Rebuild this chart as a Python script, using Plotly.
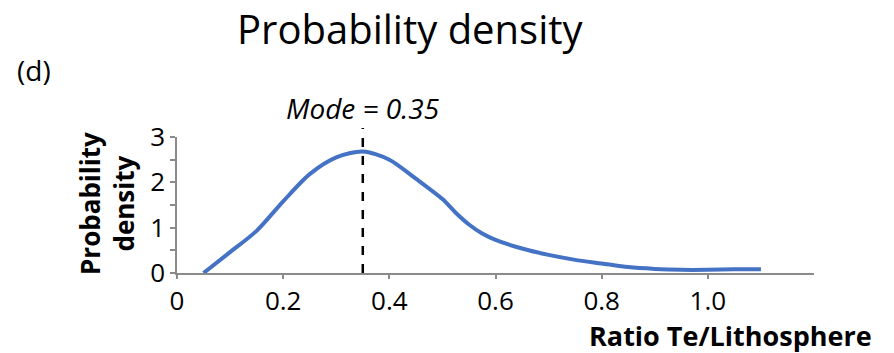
import plotly.graph_objects as go

# Probability density of the Te / lithosphere thickness ratio
ratio = [0.05, 0.10, 0.15, 0.20, 0.25, 0.30, 0.35, 0.40, 0.45, 0.50, 0.525,
         0.55, 0.575, 0.60, 0.65, 0.70, 0.75, 0.80, 0.85, 0.90, 0.95, 1.00,
         1.05, 1.10]
density = [0.0, 0.46, 0.93, 1.58, 2.18, 2.55, 2.68, 2.50, 2.08, 1.63, 1.33,
           1.07, 0.87, 0.73, 0.54, 0.40, 0.29, 0.21, 0.13, 0.09, 0.07, 0.07,
           0.08, 0.08]
mode_value = 0.35

x_ticks = [0, 0.2, 0.4, 0.6, 0.8, 1.0]
x_tick_text = ["0", "0.2", "0.4", "0.6", "0.8", "1.0"]
y_ticks = [0, 1, 2, 3]

FONT = "Open Sans"
AXIS_COLOR = "#8a8a8a"

# plot area in pixels: x 177..814, y 137..273
L, R, T, B = 177, 814, 137, 273


def px(x):
    return (x - L) / (R - L)


def py(y):
    return (B - y) / (B - T)


fig = go.Figure()
fig.add_trace(go.Scatter(
    x=ratio, y=density, mode="lines",
    line=dict(color="#4472C4", width=4, shape="spline", smoothing=0.8),
    showlegend=False, hoverinfo="x+y",
))

# Dashed marker at the mode, rising a little above the top of the axis
fig.add_shape(type="line", xref="x", yref="paper",
              x0=mode_value, x1=mode_value, y0=0, y1=py(128),
              line=dict(color="black", width=2.5, dash="dash"))

fig.add_annotation(text=f"<i>Mode = {mode_value}</i>", xref="x", yref="paper",
                   x=mode_value, y=py(108), showarrow=False,
                   font=dict(family=FONT, size=28, color="black"),
                   xanchor="center", yanchor="middle")

# Figure heading and panel letter
fig.add_annotation(text="Probability density", xref="paper", yref="paper",
                   x=px(410), y=py(29), showarrow=False,
                   font=dict(family=FONT, size=40, color="black"),
                   xanchor="center", yanchor="middle")
fig.add_annotation(text="(d)", xref="paper", yref="paper",
                   x=px(15), y=py(70), showarrow=False,
                   font=dict(family=FONT, size=28, color="black"),
                   xanchor="left", yanchor="middle")

# Axis titles
fig.add_annotation(text="<b>Probability<br>density</b>", xref="paper", yref="paper",
                   x=px(107), y=py(204), showarrow=False,
                   textangle=-90,
                   font=dict(family=FONT, size=26, color="black"),
                   xanchor="center", yanchor="middle")
fig.add_annotation(text="<b>Ratio Te/Lithosphere</b>", xref="paper", yref="paper",
                   x=px(874), y=py(335), showarrow=False,
                   font=dict(family=FONT, size=27, color="black"),
                   xanchor="right", yanchor="middle")

fig.update_xaxes(range=[0, 1.2], tickvals=x_ticks, ticktext=x_tick_text,
                 showgrid=False, zeroline=False, showline=True,
                 linecolor=AXIS_COLOR, linewidth=1.5,
                 ticks="outside", ticklen=4, tickcolor=AXIS_COLOR, tickwidth=1.5,
                 tickfont=dict(family=FONT, size=26, color="black"),
                 fixedrange=True)
fig.update_yaxes(range=[0, 3], tickvals=y_ticks,
                 showgrid=False, zeroline=False, showline=True,
                 linecolor=AXIS_COLOR, linewidth=1.5,
                 ticks="outside", ticklen=5, tickcolor=AXIS_COLOR, tickwidth=1.5,
                 minor=dict(dtick=0.5, ticks="outside", ticklen=5,
                            tickcolor=AXIS_COLOR, tickwidth=1.5),
                 tickfont=dict(family=FONT, size=26, color="black"),
                 fixedrange=True)

fig.update_layout(
    width=894, height=353,
    margin=dict(l=L, r=894 - R, t=T, b=353 - B),
    paper_bgcolor="white", plot_bgcolor="white",
    showlegend=False,
)

fig.write_html("out.html")
